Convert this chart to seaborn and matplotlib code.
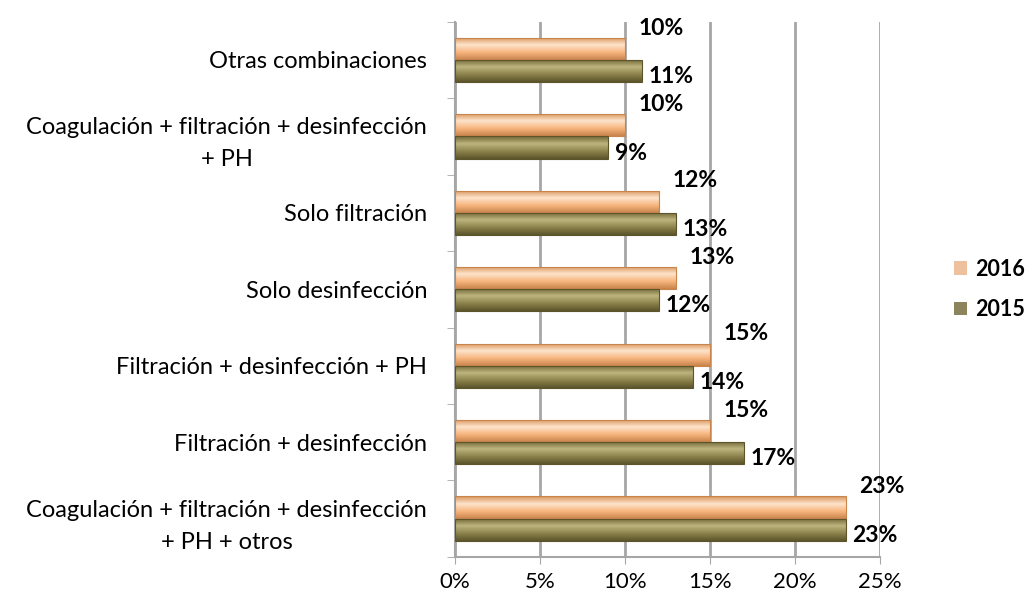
import numpy as np
import pandas as pd
import seaborn as sns
import matplotlib.pyplot as plt
from matplotlib.ticker import PercentFormatter, FixedLocator
from matplotlib.colors import LinearSegmentedColormap

# --- Data ---
categories = [
    "Otras combinaciones",
    "Coagulación + filtración + desinfección\n+ PH",
    "Solo filtración",
    "Solo desinfección",
    "Filtración + desinfección + PH",
    "Filtración + desinfección",
    "Coagulación + filtración + desinfección\n+ PH + otros",
]
years = ["2016", "2015"]
values_2016 = [10, 10, 12, 13, 15, 15, 23]
values_2015 = [11, 9, 13, 12, 14, 17, 23]

df = pd.DataFrame({
    "categoria": categories * 2,
    "año": [years[0]] * len(categories) + [years[1]] * len(categories),
    "valor": values_2016 + values_2015,
})

palette = {"2016": "#FAC090", "2015": "#948A54"}
shades = {
    "2016": ["#D9945A", "#FDE3CB", "#F7B57E", "#C9844C"],
    "2015": ["#6E6636", "#BDB47E", "#8C824C", "#5C552C"],
}

sns.set_style("white")
plt.rcParams["font.family"] = ["Lato", "DejaVu Sans"]
plt.rcParams["text.color"] = "black"
plt.rcParams["xtick.color"] = "black"
plt.rcParams["ytick.color"] = "black"

fig = plt.figure(figsize=(10.36, 6.04), dpi=100)
ax = fig.add_axes([0.439, 0.078, 0.41, 0.886])

sns.barplot(data=df, x="valor", y="categoria", hue="año", hue_order=years,
            order=categories, palette=palette, orient="h", width=0.58,
            linewidth=0, ax=ax, zorder=3)

ax.set_xlim(0, 25)
ylim = ax.get_ylim()

# cylinder shading on each bar
for container, year in zip(ax.containers, years):
    cmap = LinearSegmentedColormap.from_list("cyl" + year, shades[year])
    grad = np.linspace(0, 1, 64).reshape(-1, 1)
    for patch in container:
        x0, y0 = patch.get_x(), patch.get_y()
        w, h = patch.get_width(), patch.get_height()
        im = ax.imshow(grad, cmap=cmap, aspect="auto", zorder=4,
                       extent=(x0, x0 + w, y0 + h, y0), origin="upper")
        im.set_clip_path(patch)
        ax.add_patch(plt.Rectangle((x0, y0), w, h, fill=False,
                                   edgecolor=shades[year][3], linewidth=0.8,
                                   zorder=5))

ax.set_ylim(ylim)

# data labels
for container, year in zip(ax.containers, years):
    for patch in container:
        v = patch.get_width()
        yc = patch.get_y() + patch.get_height() / 2
        if year == "2016":
            ax.annotate(f"{v:.0f}%", (v, yc), xytext=(10, 15),
                        textcoords="offset points", fontsize=16.5,
                        fontweight="bold", ha="left", va="center", zorder=6)
        else:
            ax.annotate(f"{v:.0f}%", (v, yc), xytext=(5, -4),
                        textcoords="offset points", fontsize=16.5,
                        fontweight="bold", ha="left", va="center", zorder=6)

# axes styling
ax.xaxis.set_major_formatter(PercentFormatter(decimals=0))
ax.set_xticks(np.arange(0, 26, 5))
ax.grid(axis="x", color="#A6A6A6", linewidth=2, zorder=0)
ax.set_xlabel("")
ax.set_ylabel("")
for side in ["top", "right"]:
    ax.spines[side].set_visible(False)
for side in ["left", "bottom"]:
    ax.spines[side].set_color("#A6A6A6")
    ax.spines[side].set_linewidth(1.5)

ax.tick_params(axis="x", which="major", length=5, color="#A6A6A6",
               labelsize=16, pad=6, direction="out", bottom=True,
               labelcolor="black")
ax.tick_params(axis="y", which="major", length=0, labelsize=17, pad=20,
               labelcolor="black")
ax.yaxis.set_minor_locator(FixedLocator(np.arange(-0.5, len(categories), 1)))
ax.tick_params(axis="y", which="minor", length=6, color="#A6A6A6",
               direction="out", left=True)
for lbl in ax.get_yticklabels():
    lbl.set_multialignment("center")
    lbl.set_linespacing(1.65)

leg = ax.legend(loc="center left", bbox_to_anchor=(1.15, 0.5), frameon=False,
                handlelength=0.6, handleheight=0.6, handletextpad=0.4,
                labelspacing=0.9, borderpad=0, prop={"size": 15.5, "weight": "bold"})

fig.savefig("out.png", dpi=100)
